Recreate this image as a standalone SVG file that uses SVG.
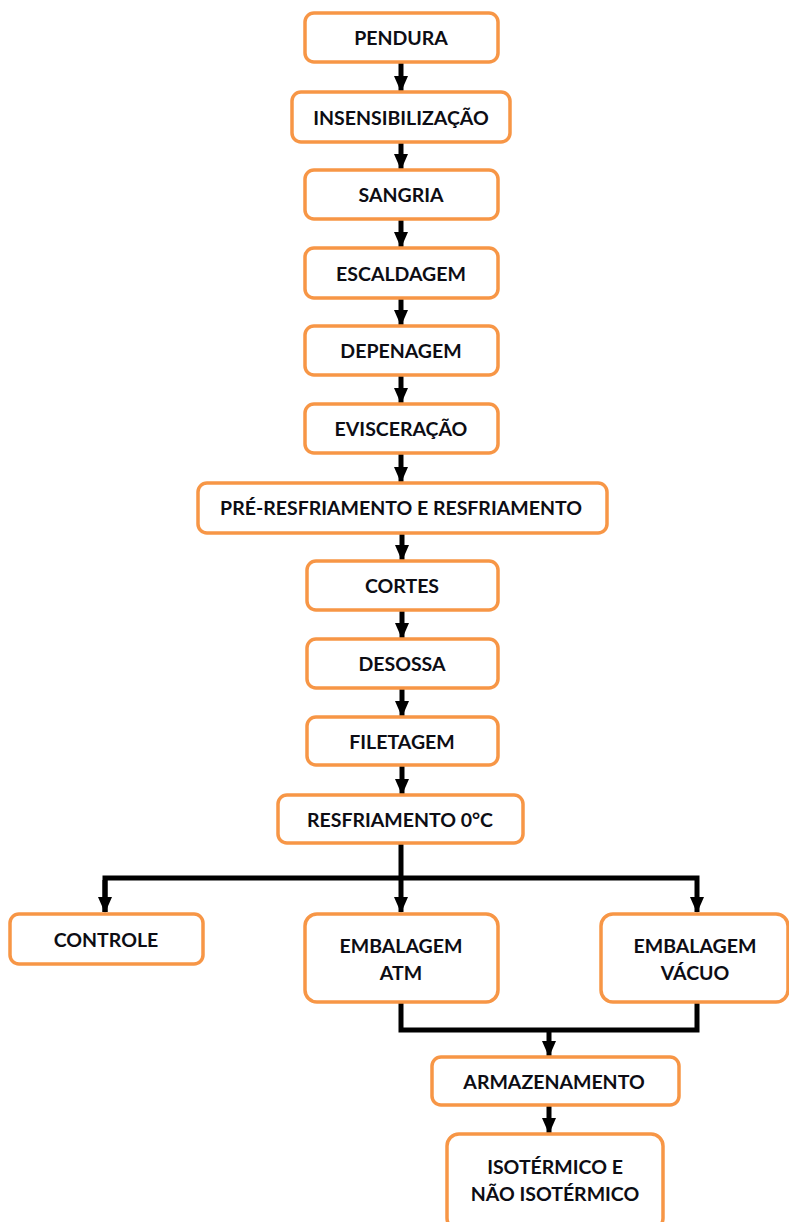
<svg xmlns="http://www.w3.org/2000/svg" width="789" height="1222" viewBox="0 0 789 1222">
<style>
.box{fill:#fff;stroke:#F79646;stroke-width:3.5}
.t{font-family:Lato,"Liberation Sans",sans-serif;font-weight:bold;font-size:19.5px;fill:#0d0d14;text-anchor:middle;dominant-baseline:central}
.c{fill:none;stroke:#000;stroke-width:5}
</style>
<defs>
<marker id="ah" markerUnits="userSpaceOnUse" markerWidth="16" markerHeight="14" refX="15" refY="7" orient="auto">
<path d="M0,0 L16,7 L0,14 z" fill="#000"/>
</marker>
</defs>
<rect width="789" height="1222" fill="#fff"/>
<g id="connectors">
<line class="c" x1="401" y1="62" x2="401" y2="91" marker-end="url(#ah)"/>
<line class="c" x1="401" y1="143" x2="401" y2="169" marker-end="url(#ah)"/>
<line class="c" x1="401" y1="220" x2="401" y2="247" marker-end="url(#ah)"/>
<line class="c" x1="401" y1="299" x2="401" y2="325" marker-end="url(#ah)"/>
<line class="c" x1="401" y1="376" x2="401" y2="403" marker-end="url(#ah)"/>
<line class="c" x1="401" y1="454" x2="401" y2="482" marker-end="url(#ah)"/>
<line class="c" x1="402" y1="534" x2="402" y2="560" marker-end="url(#ah)"/>
<line class="c" x1="402" y1="611" x2="402" y2="638" marker-end="url(#ah)"/>
<line class="c" x1="402" y1="689" x2="402" y2="716" marker-end="url(#ah)"/>
<line class="c" x1="402" y1="766" x2="402" y2="794" marker-end="url(#ah)"/>
<polyline class="c" points="401,844 401,878"/>
<polyline class="c" points="105,912 105,878 697,878 697,912" marker-end="url(#ah)"/>
<line class="c" x1="105" y1="880" x2="105" y2="912" marker-end="url(#ah)"/>
<line class="c" x1="401" y1="878" x2="401" y2="912" marker-end="url(#ah)"/>
<polyline class="c" points="401,1003 401,1030 697,1030 697,1003"/>
<line class="c" x1="549" y1="1030" x2="549" y2="1056" marker-end="url(#ah)"/>
<line class="c" x1="549" y1="1106" x2="549" y2="1133" marker-end="url(#ah)"/>
</g>
<g id="n1"><rect class="box" x="305" y="13" width="193" height="49" rx="9"/><text class="t" x="401" y="37">PENDURA</text></g>
<g id="n2"><rect class="box" x="292" y="92" width="218" height="50" rx="9"/><text class="t" x="401" y="117">INSENSIBILIZAÇÃO</text></g>
<g id="n3"><rect class="box" x="305" y="170" width="193" height="49" rx="9"/><text class="t" x="401" y="194">SANGRIA</text></g>
<g id="n4"><rect class="box" x="305" y="248" width="193" height="50" rx="9"/><text class="t" x="401" y="273">ESCALDAGEM</text></g>
<g id="n5"><rect class="box" x="305" y="326" width="193" height="49" rx="9"/><text class="t" x="401" y="350">DEPENAGEM</text></g>
<g id="n6"><rect class="box" x="305" y="404" width="193" height="49" rx="9"/><text class="t" x="401" y="428">EVISCERAÇÃO</text></g>
<g id="n7"><rect class="box" x="198" y="483" width="409" height="50" rx="9"/><text class="t" x="401" y="507">PRÉ-RESFRIAMENTO E RESFRIAMENTO</text></g>
<g id="n8"><rect class="box" x="307" y="561" width="191" height="49" rx="9"/><text class="t" x="402" y="585">CORTES</text></g>
<g id="n9"><rect class="box" x="307" y="639" width="191" height="49" rx="9"/><text class="t" x="402" y="663">DESOSSA</text></g>
<g id="n10"><rect class="box" x="307" y="717" width="191" height="48" rx="9"/><text class="t" x="402" y="741">FILETAGEM</text></g>
<g id="n11"><rect class="box" x="278" y="795" width="245" height="48" rx="9"/><text class="t" x="400" y="819">RESFRIAMENTO 0°C</text></g>
<g id="n12"><rect class="box" x="10" y="914" width="193" height="50" rx="9"/><text class="t" x="106" y="939">CONTROLE</text></g>
<g id="n13"><rect class="box" x="305" y="914" width="193" height="88" rx="12"/><text class="t" x="401" y="945">EMBALAGEM</text><text class="t" x="401" y="972">ATM</text></g>
<g id="n14"><rect class="box" x="601" y="914" width="187" height="88" rx="12"/><text class="t" x="695" y="945">EMBALAGEM</text><text class="t" x="695" y="972">VÁCUO</text></g>
<g id="n15"><rect class="box" x="432" y="1057" width="247" height="48" rx="9"/><text class="t" x="554" y="1081">ARMAZENAMENTO</text></g>
<g id="n16"><rect class="box" x="447" y="1134" width="216" height="96" rx="12"/><text class="t" x="555" y="1166">ISOTÉRMICO E</text><text class="t" x="555" y="1193">NÃO ISOTÉRMICO</text></g>
</svg>
